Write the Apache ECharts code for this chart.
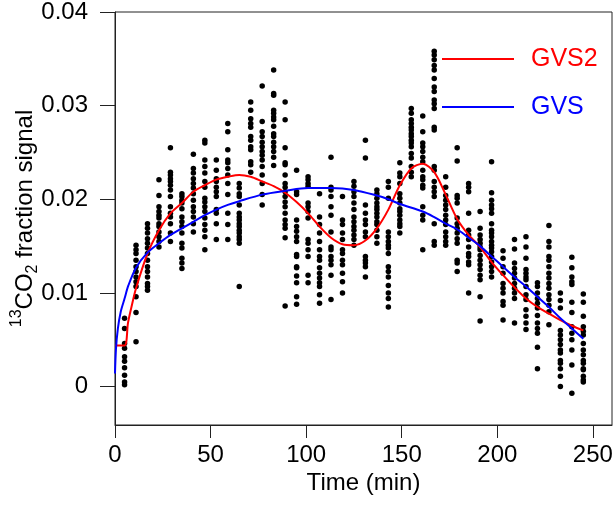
<!DOCTYPE html>
<html>
<head>
<meta charset="utf-8">
<script src="https://cdn.jsdelivr.net/npm/echarts@6/dist/echarts.min.js"></script>
<style>
html,body{margin:0;padding:0;background:#fff;}
#chart{width:614px;height:514px;}
</style>
</head>
<body>
<div id="chart"></div>
<script>
// sampling times (min) of each column of dots
var times = [5,11,17,23,29,35,41,47,53,59,65,71,77,83,89,95,101,107,113,119,125,131,137,143,149,155,161,167,173,179,185,191,197,203,209,215,221,227,233,239,245];
// measured 13CO2 fraction signal, one list per sampling time
var dots = [
 [0.0073,0.0062,0.0046,0.0041,0.0032,0.0027,0.0020,0.0012,0.0005,0.0002],
 [0.0151,0.0146,0.0142,0.0135,0.0128,0.0123,0.0117,0.0112,0.0107,0.0096,0.0079,0.0048],
 [0.0174,0.0169,0.0164,0.0158,0.0153,0.0148,0.0142,0.0135,0.0128,0.0123,0.0117,0.0110,0.0107,0.0103],
 [0.0221,0.0204,0.0192,0.0187,0.0183,0.0180,0.0174,0.0171,0.0165,0.0160,0.0155,0.0149],
 [0.0255,0.0229,0.0226,0.0222,0.0219,0.0215,0.0210,0.0203,0.0192,0.0185,0.0181,0.0174,0.0164,0.0155],
 [0.0206,0.0203,0.0199,0.0196,0.0190,0.0181,0.0176,0.0171,0.0164,0.0153,0.0148,0.0137,0.0132,0.0126],
 [0.0248,0.0233,0.0228,0.0222,0.0217,0.0212,0.0206,0.0199,0.0192,0.0187,0.0181,0.0174,0.0165],
 [0.0263,0.0260,0.0242,0.0235,0.0228,0.0219,0.0213,0.0201,0.0197,0.0192,0.0187,0.0180,0.0173,0.0167,0.0160,0.0146],
 [0.0242,0.0231,0.0222,0.0219,0.0213,0.0208,0.0203,0.0189,0.0185,0.0174,0.0157],
 [0.0281,0.0272,0.0253,0.0242,0.0239,0.0233,0.0226,0.0217,0.0205,0.0185,0.0173,0.0157],
 [0.0217,0.0212,0.0206,0.0203,0.0194,0.0185,0.0181,0.0178,0.0174,0.0171,0.0167,0.0164,0.0160,0.0157,0.0153,0.0107],
 [0.0304,0.0295,0.0286,0.0281,0.0277,0.0267,0.0263,0.0256,0.0253,0.0240,0.0237,0.0229],
 [0.0321,0.0283,0.0272,0.0267,0.0261,0.0256,0.0251,0.0247,0.0242,0.0235,0.0226,0.0217,0.0205,0.0194],
 [0.0338,0.0313,0.0311,0.0295,0.0292,0.0288,0.0285,0.0278,0.0270,0.0267,0.0261,0.0256,0.0251,0.0245,0.0236],
 [0.0304,0.0285,0.0255,0.0239,0.0237,0.0226,0.0217,0.0213,0.0208,0.0203,0.0197,0.0192,0.0185,0.0178,0.0173,0.0169,0.0159,0.0086],
 [0.0231,0.0208,0.0205,0.0178,0.0171,0.0166,0.0160,0.0155,0.0141,0.0139,0.0128,0.0127,0.0118,0.0111,0.0096,0.0088],
 [0.0224,0.0221,0.0217,0.0214,0.0196,0.0192,0.0187,0.0180,0.0157,0.0153,0.0146,0.0139,0.0119,0.0111],
 [0.0206,0.0181,0.0173,0.0164,0.0155,0.0146,0.0139,0.0135,0.0127,0.0121,0.0116,0.0111,0.0107,0.0098,0.0089],
 [0.0245,0.0213,0.0210,0.0203,0.0192,0.0183,0.0165,0.0149,0.0146,0.0139,0.0135,0.0130,0.0119,0.0093],
 [0.0203,0.0178,0.0173,0.0164,0.0157,0.0146,0.0142,0.0135,0.0130,0.0121,0.0112,0.0100],
 [0.0219,0.0214,0.0208,0.0203,0.0196,0.0189,0.0181,0.0176,0.0171,0.0167,0.0162,0.0157,0.0151],
 [0.0263,0.0244,0.0194,0.0185,0.0178,0.0173,0.0165,0.0160,0.0139,0.0135,0.0132,0.0128,0.0117],
 [0.0210,0.0206,0.0201,0.0196,0.0192,0.0189,0.0185,0.0181,0.0176,0.0173,0.0167,0.0160,0.0153],
 [0.0219,0.0213,0.0201,0.0165,0.0160,0.0155,0.0151,0.0148,0.0142,0.0128,0.0123,0.0117,0.0108,0.0100,0.0094,0.0085],
 [0.0239,0.0228,0.0224,0.0217,0.0206,0.0201,0.0196,0.0190,0.0187,0.0183,0.0178,0.0174,0.0171,0.0164],
 [0.0297,0.0292,0.0285,0.0281,0.0277,0.0274,0.0270,0.0267,0.0263,0.0260,0.0256,0.0249,0.0244,0.0235,0.0229,0.0224],
 [0.0289,0.0272,0.0260,0.0256,0.0251,0.0245,0.0240,0.0231,0.0224,0.0221,0.0215,0.0212,0.0192,0.0183,0.0178,0.0146],
 [0.0358,0.0354,0.0349,0.0343,0.0338,0.0329,0.0320,0.0315,0.0306,0.0302,0.0297,0.0277,0.0274,0.0235,0.0231,0.0219,0.0213,0.0208,0.0203,0.0174,0.0155,0.0151],
 [0.0224,0.0213,0.0204,0.0199,0.0194,0.0189,0.0183,0.0178,0.0173,0.0165,0.0160,0.0155,0.0151],
 [0.0255,0.0241,0.0204,0.0201,0.0196,0.0180,0.0174,0.0169,0.0164,0.0158,0.0153,0.0135,0.0132,0.0123],
 [0.0217,0.0213,0.0208,0.0185,0.0167,0.0162,0.0157,0.0149,0.0142,0.0139,0.0133,0.0130,0.0100],
 [0.0187,0.0169,0.0162,0.0157,0.0153,0.0149,0.0146,0.0140,0.0135,0.0130,0.0125,0.0119,0.0114,0.0096,0.0070],
 [0.0240,0.0207,0.0199,0.0194,0.0190,0.0185,0.0174,0.0167,0.0164,0.0160,0.0155,0.0151,0.0148,0.0144,0.0139,0.0133,0.0128,0.0123,0.0117],
 [0.0145,0.0137,0.0128,0.0121,0.0110,0.0105,0.0100,0.0091,0.0087,0.0071],
 [0.0157,0.0147,0.0132,0.0126,0.0121,0.0116,0.0110,0.0105,0.0100,0.0094,0.0068],
 [0.0160,0.0149,0.0137,0.0125,0.0121,0.0117,0.0114,0.0107,0.0098,0.0093,0.0082,0.0075,0.0068,0.0061],
 [0.0111,0.0107,0.0100,0.0094,0.0089,0.0084,0.0076,0.0068,0.0062,0.0057,0.0042,0.0019],
 [0.0172,0.0155,0.0149,0.0139,0.0135,0.0128,0.0121,0.0116,0.0110,0.0105,0.0098,0.0093,0.0087,0.0080,0.0066],
 [0.0100,0.0092,0.0084,0.0060,0.0055,0.0050,0.0045,0.0039,0.0036,0.0028,0.0025,0.0019,0.0011,0.0000],
 [0.0138,0.0127,0.0117,0.0112,0.0109,0.0090,0.0079,0.0064,0.0057,0.0050,0.0039,0.0023,-0.0007],
 [0.0099,0.0090,0.0075,0.0064,0.0059,0.0055,0.0046,0.0039,0.0034,0.0028,0.0025,0.0019,0.0018,0.0011,0.0007,0.0005]
];
// fitted model GVS2 (red)
var gvs2Time  = [0,5,6.8,8.5,11,17,23,29,35,41,47,53,59,65,71,77,83,89,95,101,107,113,119,125,131,137,143,149,155,161,167,173,179,185,191,197,203,209,215,221,227,233,239,245];
var gvs2Value = [0.0044,0.0044,0.0068,0.0084,0.0105,0.0142,0.0167,0.0185,0.0196,0.0208,0.0215,0.0221,0.0224,0.0226,0.0224,0.0219,0.0214,0.0207,0.0197,0.0185,0.0171,0.0159,0.0152,0.0151,0.0156,0.0169,0.0189,0.0215,0.0233,0.0238,0.0229,0.0205,0.0179,0.0162,0.0149,0.0133,0.0119,0.0106,0.0094,0.0085,0.0078,0.0071,0.0065,0.0060];
// fitted model GVS (blue)
var gvsTime  = [0,0.5,1.5,3,5,7,11,17,23,29,35,41,47,53,59,65,77,89,101,113,125,137,143,149,161,167,173,179,185,191,197,203,209,215,221,227,233,239,245];
var gvsValue = [0.0014,0.0040,0.0062,0.0080,0.0094,0.0108,0.0127,0.0143,0.0153,0.0162,0.0169,0.0176,0.0183,0.0189,0.0194,0.0198,0.0205,0.0209,0.0212,0.0212,0.0210,0.0204,0.0200,0.0195,0.0187,0.0181,0.0174,0.0168,0.0159,0.0150,0.0139,0.0128,0.0117,0.0107,0.0096,0.0085,0.0073,0.0062,0.0051];
var xTicks = [0,50,100,150,200,250];
var yTicks = [0,0.01,0.02,0.03,0.04];
var seriesNames = ['GVS2','GVS'];

var FONT = '"Liberation Sans", Arial, Helvetica, sans-serif';
var scatterData = [];
times.forEach(function (t, i) {
  dots[i].forEach(function (v) { scatterData.push([t, v]); });
});
function pairs(xs, ys) { return xs.map(function (x, i) { return [x, ys[i]]; }); }
function legendText(color) {
  return {color: color, fontSize: 25, lineHeight: 26, fontFamily: FONT, padding: [0, 0, 0, 12]};
}

var chart = echarts.init(document.getElementById('chart'), null, {renderer: 'canvas'});
chart.setOption({
  animation: false,
  backgroundColor: '#fff',
  grid: {left: 115, right: 2, top: 12, bottom: 89, show: true, borderColor: '#222', borderWidth: 1,
         containLabel: false, outerBoundsMode: 'none'},
  legend: {
    orient: 'vertical', left: 442, top: 46, padding: 0, itemGap: 22,
    icon: 'rect', itemWidth: 72, itemHeight: 2,
    itemStyle: {borderWidth: 0},
    textStyle: legendText('#000'),
    data: [
      {name: seriesNames[0], textStyle: legendText('#ff0000')},
      {name: seriesNames[1], textStyle: legendText('#0000ff')}
    ]
  },
  xAxis: {
    type: 'value', min: 0, max: 260,
    name: 'Time (min)', nameLocation: 'middle', nameGap: 46, nameMoveOverlap: false,
    nameTextStyle: {fontSize: 24, color: '#000', fontFamily: FONT},
    axisLine: {show: true, onZero: false, lineStyle: {color: '#222', width: 1}},
    axisTick: {show: true, inside: false, length: 13, lineStyle: {color: '#222'}, customValues: xTicks},
    axisLabel: {fontSize: 24, color: '#000', fontFamily: FONT, margin: 18, customValues: xTicks},
    splitLine: {show: false}
  },
  yAxis: {
    type: 'value', min: -0.0041, max: 0.04,
    name: '{sup|13}CO{sub|2} fraction signal', nameLocation: 'middle', nameGap: 74, nameMoveOverlap: false,
    nameTextStyle: {
      fontSize: 24, color: '#000', fontFamily: FONT, lineHeight: 32,
      rich: {
        sup: {fontSize: 16, fontFamily: FONT, color: '#000', verticalAlign: 'top', lineHeight: 16},
        sub: {fontSize: 16, fontFamily: FONT, color: '#000', verticalAlign: 'bottom', lineHeight: 16}
      }
    },
    axisLine: {show: true, onZero: false, lineStyle: {color: '#222', width: 1}},
    axisTick: {show: true, inside: false, length: 15, lineStyle: {color: '#222'}, customValues: yTicks},
    axisLabel: {
      fontSize: 24, color: '#000', fontFamily: FONT, margin: 27, customValues: yTicks,
      formatter: function (v) { return v === 0 ? '0' : v.toFixed(2); }
    },
    splitLine: {show: false}
  },
  series: [
    {
      type: 'scatter', name: 'data', data: scatterData, symbol: 'circle', symbolSize: 5.5,
      itemStyle: {color: '#000', opacity: 1}, z: 2, silent: true
    },
    {
      type: 'line', name: seriesNames[0], data: pairs(gvs2Time, gvs2Value), smooth: 0.3,
      symbol: 'none', color: '#ff0000', lineStyle: {color: '#ff0000', width: 2}, z: 3
    },
    {
      type: 'line', name: seriesNames[1], data: pairs(gvsTime, gvsValue), smooth: 0.3,
      symbol: 'none', color: '#0000ff', lineStyle: {color: '#0000ff', width: 2}, z: 3
    }
  ]
});
</script>
</body>
</html>
